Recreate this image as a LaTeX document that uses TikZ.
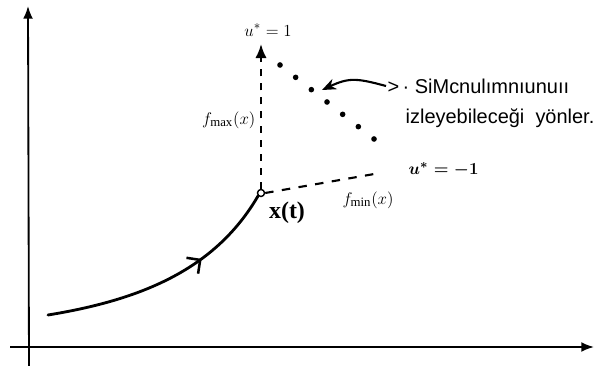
\documentclass[tikz,border=0pt]{standalone}
\usepackage{amsmath}
\usepackage{fontspec}
\setmainfont{Liberation Serif}
\newfontfamily\notefont{Liberation Sans}
\usetikzlibrary{arrows.meta, positioning, calc, decorations.markings}

\begin{document}
\begin{tikzpicture}[
  x=0.025cm, y=-0.025cm,
  font=\fontsize{13}{15}\selectfont,
  % ---- Line styles ----
  axis/.style ={-{Latex[length=9pt, width=7pt]}, line width=1.3pt},
  traj/.style ={line width=2pt, line cap=round,
    postaction={decorate}, decoration={markings,
      mark=at position 0.66 with {\arrow{Straight Barb[length=7pt, width=14pt, line width=1.8pt]}}}},
  bound/.style={line width=1.5pt, dash pattern=on 5pt off 5pt},
  bndlo/.style={line width=1.5pt, dash pattern=on 6pt off 6pt},
  hint/.style ={-{Stealth[length=10pt, width=8pt]}, line width=1.5pt},
  % ---- Node styles ----
  lbl/.style  ={inner sep=1pt},
  note/.style ={font=\notefont\fontsize{14.2}{17}\selectfont, inner sep=1pt, align=left},
  state/.style={circle, draw, line width=1pt, inner sep=0pt, minimum size=5pt, fill=white},
]
\useasboundingbox (0,0) rectangle (610,366);

% ---- Axes ----
\coordinate (xstart) at (10,347);
\coordinate (xend)   at (594,347);
\coordinate (ystart) at (29,366);
\coordinate (yend)   at (28,6);
\draw[axis] (xstart) -- (xend);
\draw[axis] (ystart) -- (yend);

% ---- Trajectory ending at x(t) ----
\coordinate (x0) at (48,315);
\node[state] (xt) at (261,193) {};
\draw[traj] (x0) .. controls (140,300) and (215,270) .. (xt.south west);
\node[lbl, font=\fontsize{17}{19}\selectfont\bfseries] (xtlbl) at (287,213) {x(t)};

% ---- Bounds of the reachable directions ----
\coordinate (umaxend) at (261,44);
\coordinate (uminend) at (380,173);
\draw[bound, -{Latex[length=10pt, width=8pt]}] (xt.north) -- (umaxend);
\draw[bndlo] (xt.east) -- (uminend);
\node[lbl] (umaxlbl) at (268,30) {$u^{*}=1$};
\node[lbl, anchor=west] (uminlbl) at (407,170) {$\boldsymbol{u^{*}=-1}$};
\node[lbl, anchor=east] (fmaxlbl) at (257,120) {$f_{\max}(x)$};
\node[lbl] (fminlbl) at (368,200) {$f_{\min}(x)$};

% ---- Directions in between (dotted) ----
\coordinate (dotA) at (280,65);
\coordinate (dotB) at (374,139);
\foreach \i in {0,...,6}
  \fill ($(dotA)!\i/6!(dotB)$) circle (2pt);

% ---- Note with pointer ----
\node[note, anchor=west] (note) at (386,86) {>\,· SiMcnulımnıunuıı};
\node[note, anchor=west] (note2) at (404,118) {izleyebileceği~~yönler.};
\coordinate (dirtip) at (322,90);
\draw[hint] (note.west) to[out=165, in=25, looseness=1.2] (dirtip);
\end{tikzpicture}
\end{document}
